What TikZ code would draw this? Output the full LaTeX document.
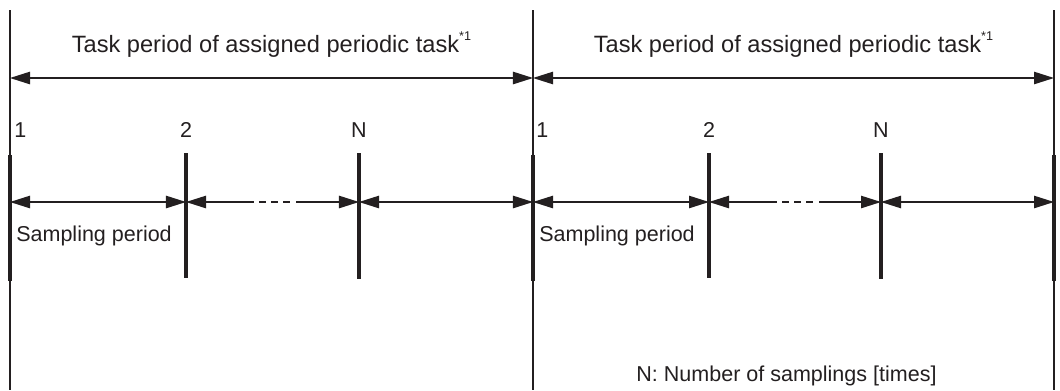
\documentclass[tikz,border=0pt]{standalone}
\usepackage{fontspec}
\setmainfont{Liberation Sans}
\definecolor{inkblack}{HTML}{231F20}
\usetikzlibrary{arrows.meta}
\tikzset{
    periodline/.style={
        draw=inkblack,
        line width=0.9pt
    },
    sampletick/.style={
        draw=inkblack,
        line width=2.8pt
    },
    spanarrow/.style={
        {Triangle[length=5mm,width=3.1mm]}-{Triangle[length=5mm,width=3.1mm]},
        draw=inkblack,
        line width=0.9pt
    },
    spanleft/.style={
        {Triangle[length=5mm,width=3.1mm]}-,
        draw=inkblack,
        line width=0.9pt
    },
    spanright/.style={
        -{Triangle[length=5mm,width=3.1mm]},
        draw=inkblack,
        line width=0.9pt
    },
    spangap/.style={
        draw=inkblack,
        line width=0.9pt,
        dash pattern=on 0.175cm off 0.125cm
    },
    periodlabel/.style={
        text=inkblack,
        inner sep=0pt,
        anchor=base,
        font=\fontsize{16.8}{20}\selectfont
    },
    ticklabel/.style={
        text=inkblack,
        inner sep=0pt,
        anchor=base,
        font=\fontsize{15.3}{18}\selectfont
    }
}
\newcommand{\tasknote}{\raisebox{0.5em}{\fontsize{9}{9}\selectfont *1}}

\begin{document}
\begin{tikzpicture}[x=0.025cm,y=-0.025cm]
    \useasboundingbox (0,0) rectangle (1060,390);

    % period boundaries
    \coordinate (b1top) at (10,10);   \coordinate (b1bot) at (10,390);
    \coordinate (b2top) at (533,10);  \coordinate (b2bot) at (533,390);
    \coordinate (b3top) at (1054,10); \coordinate (b3bot) at (1054,390);
    \draw[periodline] (b1top) -- (b1bot);
    \draw[periodline] (b2top) -- (b2bot);
    \draw[periodline] (b3top) -- (b3bot);

    % task period arrows
    \coordinate (p1) at (10,78);
    \coordinate (p2) at (533,78);
    \coordinate (p3) at (1054,78);
    \draw[spanarrow] (p1) -- (p2);
    \draw[spanarrow] (p2) -- (p3);
    \node[periodlabel] (taskA) at (271.5,52)
        {Task period of assigned periodic task\tasknote};
    \node[periodlabel] (taskB) at (793.5,52)
        {Task period of assigned periodic task\tasknote};

    % sampling ticks
    \coordinate (s1) at (10,202);   \coordinate (s2) at (186,202);
    \coordinate (sN) at (359,202);  \coordinate (s4) at (533,202);
    \coordinate (s5) at (709,202);  \coordinate (sM) at (881,202);
    \coordinate (s7) at (1054,202);
    \draw[sampletick] (10,155) -- (10,281);
    \draw[sampletick] (186,153) -- (186,278);
    \draw[sampletick] (359,153) -- (359,279);
    \draw[sampletick] (533,155) -- (533,281);
    \draw[sampletick] (709,153) -- (709,278);
    \draw[sampletick] (881,153) -- (881,279);
    \draw[sampletick] (1054,155) -- (1054,281);

    \node[ticklabel,anchor=base west] (oneA) at (14,137) {1};
    \node[ticklabel] (twoA) at (186,137) {2};
    \node[ticklabel] (nA) at (359,137) {N};
    \node[ticklabel,anchor=base west] (oneB) at (536,137) {1};
    \node[ticklabel] (twoB) at (709,137) {2};
    \node[ticklabel] (nB) at (881,137) {N};

    % sampling period arrows
    \coordinate (gapA1) at (254,202); \coordinate (gapA2) at (259,202);
    \coordinate (gapA3) at (290,202); \coordinate (gapA4) at (296,202);
    \coordinate (gapB1) at (777,202); \coordinate (gapB2) at (782,202);
    \coordinate (gapB3) at (813,202); \coordinate (gapB4) at (819,202);
    \draw[spanarrow] (s1) -- (s2);
    \draw[spanleft] (s2) -- (gapA1);
    \draw[spangap] (gapA2) -- (gapA3);
    \draw[spanright] (gapA4) -- (sN);
    \draw[spanarrow] (sN) -- (s4);
    \draw[spanarrow] (s4) -- (s5);
    \draw[spanleft] (s5) -- (gapB1);
    \draw[spangap] (gapB2) -- (gapB3);
    \draw[spanright] (gapB4) -- (sM);
    \draw[spanarrow] (sM) -- (s7);

    \node[ticklabel,anchor=base west] (sampA) at (16,241) {Sampling period};
    \node[ticklabel,anchor=base west] (sampB) at (539,241) {Sampling period};

    \node[ticklabel] (legend) at (786.5,381) {N: Number of samplings [times]};
\end{tikzpicture}
\end{document}
